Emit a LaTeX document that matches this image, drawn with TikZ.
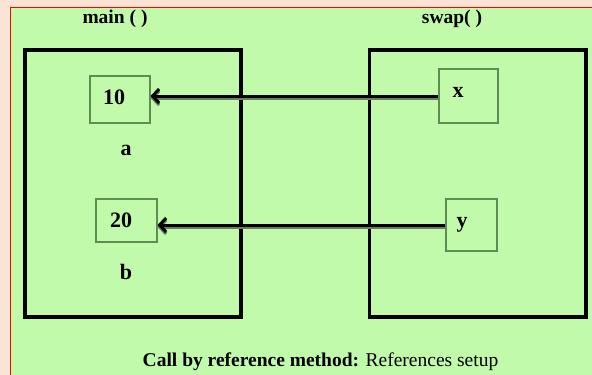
\documentclass[tikz,border=0pt]{standalone}
\usepackage{fontspec}
\setmainfont{Liberation Serif}
\usetikzlibrary{arrows.meta}
\definecolor{bgpink}{RGB}{251,228,214}
\definecolor{panel}{RGB}{193,250,170}
\definecolor{boxline}{RGB}{95,140,80}
\definecolor{shade}{RGB}{105,125,95}
\begin{document}
\begin{tikzpicture}[x=1pt,y=-1pt,
  lbl/.style={font=\fontsize{19.5}{22}\selectfont\bfseries, anchor=base, inner sep=0pt},
  val/.style={font=\fontsize{22}{24}\selectfont\bfseries, anchor=base, inner sep=0pt},
  captext/.style={font=\fontsize{19.5}{22}\selectfont, anchor=base, inner sep=0pt},
  bigbox/.style={draw=black, line width=3.6pt, rectangle, inner sep=0pt},
  cell/.style={draw=boxline, line width=1.1pt, rectangle, inner sep=0pt},
  conn/.style={line width=3pt, -{Straight Barb[length=6.5pt,width=14pt,line width=3pt]},
    preaction={draw=shade, line width=3pt, transform canvas={yshift=-2pt}}}
]
\useasboundingbox (0,0) rectangle (592,375);
\fill[bgpink] (0,0) rectangle (592,375);
\fill[panel] (10.5,7) rectangle (592,375);
\draw[red, line width=1pt] (10.5,375) -- (10.5,7) -- (592,7);

\node[bigbox, minimum width=216pt, minimum height=267pt] (mainbox) at (133,183.4) {};
\node[bigbox, minimum width=216.5pt, minimum height=267pt] (swapbox) at (477.8,183.4) {};

\node[cell, minimum width=60pt, minimum height=47pt] (b10) at (120,99.5) {};
\node[cell, minimum width=61pt, minimum height=43pt] (b20) at (126.5,220.5) {};
\node[cell, minimum width=59pt, minimum height=54pt] (xbox) at (468.5,96) {};
\node[cell, minimum width=51pt, minimum height=52pt] (ybox) at (471.5,225) {};

\node[val] (t10) at (114,104) {10};
\node[val] (t20) at (121,227) {20};
\node[val] (ta) at (126,155) {a};
\node[val] (tb) at (126,279) {b};
\node[val] (tx) at (458,97) {x};
\node[val] (ty) at (462,227) {y};
\node[lbl] (tmain) at (115,23) {main ( )};
\node[lbl] (tswap) at (452,23) {swap( )};
\node[captext] (caption) at (320.5,366) {\textbf{Call by reference method:} References setup};

\draw[conn] (xbox.west) -- (xbox.west -| b10.east);
\draw[conn] (ybox.west) -- (ybox.west -| b20.east);
\end{tikzpicture}
\end{document}
